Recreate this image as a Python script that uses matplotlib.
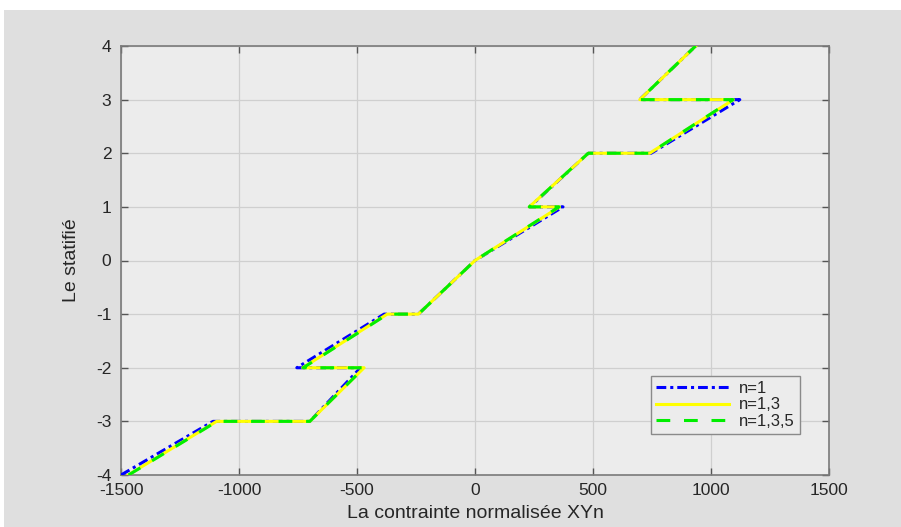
import matplotlib
matplotlib.use("Agg")
import matplotlib.pyplot as plt
from matplotlib.patches import Rectangle

plt.rcParams['font.family'] = ['Liberation Sans', 'DejaVu Sans']
plt.rcParams['axes.unicode_minus'] = False

# Through-thickness profile of the normalised stress (one polyline per series)
z_levels = [-4, -3, -3, -2, -2, -1, -1, 0, 1, 1, 2, 2, 3, 3, 4]
sigma_n1 = [-1500, -1110, -700, -485, -755, -385, -240, 0, 373, 232, 480, 746, 1122, 698, 935]
sigma_n13 = [-1470, -1095, -700, -470, -730, -372, -240, 0, 358, 230, 480, 740, 1095, 698, 935]
sigma_n135 = [-1468, -1093, -700, -470, -728, -370, -240, 0, 356, 230, 480, 740, 1093, 698, 935]

series_labels = ['n=1', 'n=1,3', 'n=1,3,5']
xticks = [-1500, -1000, -500, 0, 500, 1000, 1500]
yticks = [-4, -3, -2, -1, 0, 1, 2, 3, 4]

W, H = 901, 527
fig = plt.figure(figsize=(W / 100, H / 100), dpi=100, facecolor='white')
fig.patches.append(Rectangle((4 / W, 0), 1 - 4 / W, (H - 10) / H,
                             transform=fig.transFigure, facecolor='#dfdfdf',
                             edgecolor='none', zorder=-10))

ax = fig.add_axes([121 / W, (H - 475) / H, 708 / W, 429 / H])
ax.set_facecolor('#ececec')

ax.plot(sigma_n1, z_levels, color='#0000ff', lw=2.2, linestyle=(0, (3.2, 1.3, 1.0, 1.3)),
        label=series_labels[0], zorder=3)
ax.plot(sigma_n13, z_levels, color='#ffff00', lw=2.2, linestyle='-',
        label=series_labels[1], zorder=4)
ax.plot(sigma_n135, z_levels, color='#00ee00', lw=2.2, linestyle=(0, (4.5, 4.5)),
        label=series_labels[2], zorder=5)

ax.set_xlim(-1500, 1500)
ax.set_ylim(-4, 4)
ax.set_xticks(xticks)
ax.set_yticks(yticks)
ax.grid(True, color='#cfcfcf', lw=0.9)
ax.set_axisbelow(True)
ax.tick_params(direction='in', length=5, width=1, color='#555555',
               top=True, right=True, labelsize=12.5, labelcolor='#262626')
ax.tick_params(axis='x', pad=6)
ax.tick_params(axis='y', pad=7)
for s in ax.spines.values():
    s.set_color('#7a7a7a')
    s.set_linewidth(1.2)

ax.set_xlabel('La contrainte normalisée XYn', fontsize=14, color='#262626', labelpad=5)
ax.set_ylabel('Le statifié', fontsize=14, color='#262626', labelpad=11)

leg = ax.legend(loc='lower right', bbox_to_anchor=(800 / W, (H - 434) / H),
                bbox_transform=fig.transFigure, fontsize=12, frameon=True,
                fancybox=False, borderpad=0.3, labelspacing=0.1,
                handlelength=4.4, handletextpad=0.6, borderaxespad=0)
leg.get_frame().set_facecolor('#ececec')
leg.get_frame().set_edgecolor('#8a8a8a')
leg.get_frame().set_linewidth(1.0)
leg.get_frame().set_alpha(1)
for t in leg.get_texts():
    t.set_color('#262626')

fig.savefig('out.png', dpi=100, facecolor=fig.get_facecolor())
